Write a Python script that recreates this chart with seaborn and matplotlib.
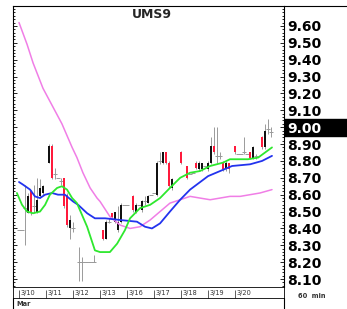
"""
UMS9 60-minute candles with three moving averages.
"""

import numpy as np
import matplotlib
matplotlib.use("Agg")
import matplotlib.pyplot as plt
from matplotlib.lines import Line2D
from matplotlib.patches import Rectangle
import seaborn as sns

# --- data ---
title = "UMS9"
day_labels = ["3/10", "3/11", "3/12", "3/13", "3/16", "3/17", "3/18", "3/19", "3/20"]
day_start = [0, 9, 18, 27, 36, 45, 54, 63, 72]  # bar index where each day begins
price_ticks = [8.10, 8.20, 8.30, 8.40, 8.50, 8.60, 8.70, 8.80, 8.90,
               9.00, 9.10, 9.20, 9.30, 9.40, 9.50, 9.60]
last_price = 9.00

bar_t = [0, 1, 2, 3, 4, 5, 6, 7, 8, 10, 11, 12, 13, 14, 15, 16, 17, 18,
         20, 21, 22, 23, 24, 25, 28, 29, 30, 31, 32, 33, 34, 35, 36, 38, 39,
         40, 41, 42, 43, 44, 45, 46, 47, 48, 49, 50, 51, 54, 56, 57, 58, 59,
         60, 61, 62, 63, 64, 65, 66, 67, 68, 69, 70, 72, 73, 74, 75, 76, 77,
         78, 79, 81, 82, 83, 84]
bar_open = [8.39, 8.39, 8.52, 8.49, 8.62, 8.53, 8.49, 8.59, 8.61, 8.79, 8.89,
            8.72, 8.70, 8.68, 8.70, 8.60, 8.40, 8.40, 8.20, 8.20, 8.20, 8.20,
            8.20, 8.20, 8.39, 8.34, 8.44, 8.49, 8.44, 8.39, 8.44, 8.54, 8.54,
            8.59, 8.50, 8.54, 8.51, 8.56, 8.55, 8.60, 8.61, 8.60, 8.80, 8.79,
            8.85, 8.79, 8.64, 8.85, 8.77, 8.72, 8.73, 8.79, 8.75, 8.75, 8.77,
            8.75, 8.79, 8.89, 8.83, 8.83, 8.79, 8.75, 8.79, 8.89, 8.84, 8.84,
            8.85, 8.84, 8.85, 8.82, 8.83, 8.94, 8.88, 8.99, 8.97]
bar_high = [8.39, 8.39, 8.66, 8.61, 8.63, 8.66, 8.70, 8.69, 8.66, 8.90, 8.90,
            8.76, 8.70, 8.70, 8.70, 8.61, 8.48, 8.44, 8.29, 8.23, 8.20, 8.20,
            8.20, 8.24, 8.39, 8.45, 8.46, 8.49, 8.50, 8.53, 8.55, 8.54, 8.54,
            8.60, 8.55, 8.54, 8.57, 8.59, 8.60, 8.60, 8.61, 8.80, 8.85, 8.85,
            8.85, 8.80, 8.70, 8.86, 8.77, 8.72, 8.73, 8.80, 8.80, 8.79, 8.77,
            8.80, 8.94, 9.00, 9.00, 8.85, 8.80, 8.80, 8.79, 8.89, 8.84, 8.84,
            8.94, 8.84, 8.85, 8.89, 8.84, 8.95, 9.02, 9.05, 9.00]
bar_low = [8.39, 8.39, 8.30, 8.49, 8.48, 8.49, 8.49, 8.58, 8.60, 8.79, 8.69,
           8.69, 8.70, 8.66, 8.52, 8.41, 8.34, 8.38, 8.09, 8.09, 8.20, 8.20,
           8.20, 8.20, 8.33, 8.34, 8.43, 8.46, 8.43, 8.38, 8.43, 8.54, 8.54,
           8.50, 8.49, 8.54, 8.50, 8.54, 8.55, 8.60, 8.61, 8.59, 8.78, 8.78,
           8.78, 8.64, 8.63, 8.78, 8.69, 8.72, 8.73, 8.75, 8.74, 8.74, 8.77,
           8.74, 8.78, 8.84, 8.79, 8.81, 8.74, 8.74, 8.73, 8.84, 8.84, 8.84,
           8.84, 8.84, 8.81, 8.81, 8.81, 8.87, 8.87, 8.96, 8.94]
bar_close = [8.39, 8.39, 8.52, 8.59, 8.49, 8.53, 8.57, 8.64, 8.65, 8.89, 8.70,
             8.72, 8.70, 8.68, 8.53, 8.42, 8.45, 8.40, 8.20, 8.20, 8.20, 8.20,
             8.20, 8.20, 8.34, 8.44, 8.44, 8.47, 8.50, 8.44, 8.54, 8.54, 8.54,
             8.51, 8.54, 8.54, 8.56, 8.56, 8.59, 8.60, 8.61, 8.79, 8.80, 8.85,
             8.79, 8.65, 8.69, 8.79, 8.70, 8.72, 8.73, 8.76, 8.79, 8.79, 8.77,
             8.79, 8.89, 8.85, 8.83, 8.83, 8.75, 8.79, 8.75, 8.85, 8.84, 8.84,
             8.85, 8.84, 8.82, 8.88, 8.83, 8.88, 8.98, 8.99, 8.97]

# moving averages (bar index, value)
slow_t = [0, 2.7, 4.7, 8, 11.3, 14.3, 17.7, 19.3, 21.3, 23.7, 26, 27, 30.3,
          33.7, 37, 40.3, 43.7, 47, 50.3, 53.7, 57, 60.3, 63.7, 67, 70.3,
          73.7, 77, 80.3, 84.3]
slow_ma = [9.62, 9.49, 9.38, 9.23, 9.12, 9.02, 8.88, 8.82, 8.73, 8.64, 8.58,
           8.56, 8.47, 8.42, 8.40, 8.41, 8.45, 8.50, 8.55, 8.57, 8.59, 8.58,
           8.57, 8.58, 8.59, 8.59, 8.60, 8.61, 8.63]
mid_t = [0, 1.3, 3.7, 5.3, 7, 8.7, 11, 13, 15.3, 18, 19.7, 22.7, 25.3, 28.7,
         33.7, 39.3, 42, 44.3, 47, 50.3, 53.7, 57, 63, 71, 77, 81, 84.3]
mid_ma = [8.675, 8.66, 8.63, 8.59, 8.58, 8.60, 8.61, 8.60, 8.60, 8.56, 8.54,
          8.49, 8.46, 8.46, 8.45, 8.44, 8.41, 8.40, 8.43, 8.50, 8.57, 8.63,
          8.71, 8.77, 8.78, 8.80, 8.83]
fast_t = [-0.7, 1, 2.7, 4.7, 7, 8.7, 10.3, 12.7, 14.3, 16, 17.7, 19.3, 22.7,
          25.3, 27, 30.3, 32.7, 35.3, 37, 40.3, 43.7, 47, 50.3, 53.7, 57, 60.3,
          63.7, 68, 70.3, 73.7, 76.3, 79.7, 82, 84.3]
fast_ma = [8.61, 8.54, 8.50, 8.49, 8.50, 8.54, 8.60, 8.64, 8.65, 8.63, 8.58,
           8.55, 8.41, 8.27, 8.26, 8.26, 8.31, 8.39, 8.46, 8.52, 8.54, 8.58,
           8.64, 8.70, 8.73, 8.74, 8.77, 8.79, 8.81, 8.81, 8.81, 8.82, 8.85,
           8.88]

# --- figure ---
sns.set_style("white")
plt.rcParams["font.family"] = ["DejaVu Sans"]

W, H = 347, 309
fig = plt.figure(figsize=(W / 100, H / 100), dpi=100)
ax = fig.add_axes([13 / W, 1 - 287 / H, 271 / W, 281 / H])
band = fig.add_axes([13 / W, 1 - 298 / H, 271 / W, 11 / H])

UP, DOWN, FLAT = "#111111", "#ff1a3c", "#9a9a9a"

t = np.array(bar_t, dtype=float)
o, h, l, c = (np.array(a) for a in (bar_open, bar_high, bar_low, bar_close))
colors = np.where(c > o, UP, np.where(c < o, DOWN, FLAT))

# wicks
ax.vlines(t, l, h, colors=FLAT, linewidth=0.7, zorder=2)
# bodies
moved = c != o
ax.bar(t[moved], np.abs(c - o)[moved], bottom=np.minimum(o, c)[moved],
       width=0.85, color=colors[moved], linewidth=0, zorder=3)
# flat bars as short dashes
ax.hlines(c[~moved], t[~moved] - 0.6, t[~moved] + 0.6, colors=FLAT,
          linewidth=0.7, zorder=2)

sns.lineplot(x=slow_t, y=slow_ma, color="#f07ee6", linewidth=1.1, ax=ax,
             sort=False, zorder=4)
sns.lineplot(x=mid_t, y=mid_ma, color="#2233ee", linewidth=1.3, ax=ax,
             sort=False, zorder=5)
sns.lineplot(x=fast_t, y=fast_ma, color="#2ee82e", linewidth=1.3, ax=ax,
             sort=False, zorder=6)

ax.set_xlim(-2, 88.3)
ax.set_ylim(8.053, 9.718)
ax.set_xticks([])
ax.set_yticks(price_ticks)
ax.set_yticklabels([f"{v:.2f}" for v in price_ticks])
ax.set_yticks(np.arange(8.06, 9.72, 0.02), minor=True)
ax.yaxis.tick_right()
ax.tick_params(axis="y", which="both", left=True, right=True, direction="in",
               labelleft=False, labelright=True, pad=2, colors="black",
               labelsize=10, width=0.6)
ax.tick_params(axis="y", which="major", length=3)
ax.tick_params(axis="y", which="minor", length=1.5)
for lbl in ax.get_yticklabels():
    lbl.set_fontweight("bold")
    if abs(float(lbl.get_text()) - last_price) < 1e-6:
        lbl.set_color("white")
ax.set_xlabel("")
ax.set_ylabel("")
for s in ax.spines.values():
    s.set_color("black")
    s.set_linewidth(0.8)
ax.spines["bottom"].set_linewidth(0.6)

# highlighted last price box
fig.add_artist(Rectangle((284 / W, 1 - 136 / H), 63 / W, 17 / H,
                         transform=fig.transFigure, color="black", zorder=-1))

# date band
band.set_xlim(ax.get_xlim())
band.set_ylim(0, 1)
band.set_yticks([])
band.set_xticks(day_start)
band.set_xticklabels([])
band.tick_params(axis="x", direction="in", length=6, width=0.6, colors="#444444",
                 bottom=True, top=False)
for pos, lbl in zip(day_start, day_labels):
    band.text(pos + 0.5, 0.45, lbl, fontsize=4.8, ha="left", va="center",
              color="#333333")
for s in band.spines.values():
    s.set_color("black")
    s.set_linewidth(0.6)

# frame extensions
def fig_line(x0, y0, x1, y1, lw=0.8):
    fig.add_artist(Line2D([x0 / W, x1 / W], [1 - y0 / H, 1 - y1 / H],
                          transform=fig.transFigure, color="black", linewidth=lw))

fig_line(284, 6, 347, 6)
fig_line(13, 298, 13, 309)
fig_line(284, 298, 284, 309)

fig.text(152 / W, 1 - 14 / H, title, fontsize=9, fontweight="bold",
         ha="center", va="center")
fig.text(312 / W, 1 - 296 / H, "60  min", fontsize=4.8, fontweight="bold",
         ha="center", va="center", color="#333333")
fig.text(16 / W, 1 - 304 / H, "Mar", fontsize=4.8, fontweight="bold",
         ha="left", va="center", color="#333333")

fig.savefig("out.png", dpi=100)
